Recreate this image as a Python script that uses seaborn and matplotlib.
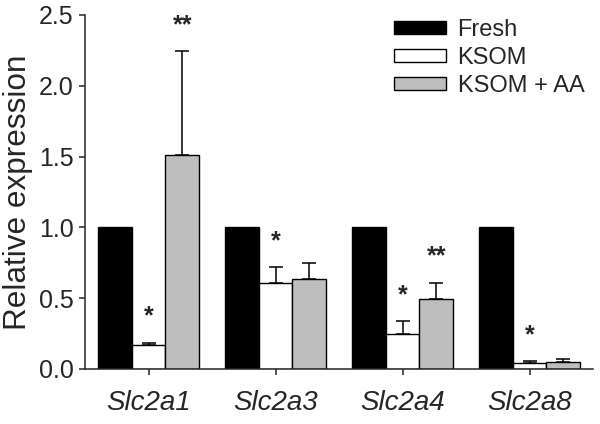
import numpy as np
import pandas as pd
import matplotlib
matplotlib.use("Agg")
import matplotlib.pyplot as plt
import seaborn as sns

genes = ["Slc2a1", "Slc2a3", "Slc2a4", "Slc2a8"]
groups = ["Fresh", "KSOM", "KSOM + AA"]
fresh = [1.0, 1.0, 1.0, 1.0]
ksom = [0.167, 0.61, 0.245, 0.04]
ksom_aa = [1.511, 0.633, 0.496, 0.049]
fresh_err = [0.0, 0.0, 0.0, 0.0]
ksom_err = [0.019, 0.11, 0.096, 0.016]
ksom_aa_err = [0.735, 0.113, 0.114, 0.021]
fresh_sig = ["", "", "", ""]
ksom_sig = ["*", "*", "*", "*"]
ksom_aa_sig = ["**", "", "**", ""]
colors = ["#000000", "#ffffff", "#bebebe"]
yticks = [0.0, 0.5, 1.0, 1.5, 2.0, 2.5]

sns.set_style("ticks")
plt.rcParams["font.family"] = ["Liberation Sans", "DejaVu Sans"]

values = [fresh, ksom, ksom_aa]
errs = [fresh_err, ksom_err, ksom_aa_err]
sigs = [fresh_sig, ksom_sig, ksom_aa_sig]

df = pd.DataFrame({
    "gene": [g for _ in groups for g in genes],
    "group": [grp for grp in groups for _ in genes],
    "value": [v for vals in values for v in vals],
})

fig = plt.figure(figsize=(6, 4.24), dpi=100)
ax = fig.add_axes([85 / 600, 55 / 424, 508 / 600, 354 / 424])

sns.barplot(data=df, x="gene", y="value", hue="group", order=genes,
            hue_order=groups, palette=colors, edgecolor="black",
            linewidth=1.0, errorbar=None, width=0.8, saturation=1, ax=ax)

bar_conts = list(ax.containers)
for ci, cont in enumerate(bar_conts):
    for j, p in enumerate(cont.patches):
        cx = p.get_x() + p.get_width() / 2
        h = p.get_height()
        e = errs[ci][j]
        if e > 0:
            ax.errorbar(cx, h, yerr=[[0], [e]], fmt="none", ecolor="black",
                        elinewidth=1.1, capsize=4.7, capthick=1.1, zorder=3)
        s = sigs[ci][j]
        if s:
            ax.annotate(s, (cx, h + e), xytext=(0, 10), textcoords="offset points",
                        ha="center", va="bottom", fontsize=18, fontweight="bold")

ax.set_xlim(-0.5, 3.5)
ax.set_ylim(0, 2.5)
ax.set_yticks(yticks)
ax.set_yticklabels([f"{t:.1f}" for t in yticks])
ax.set_xlabel("")
ax.set_ylabel("Relative expression", fontsize=22.7, labelpad=4)
ax.tick_params(axis="y", labelsize=18, length=4.3, width=1.1, pad=4)
ax.tick_params(axis="x", labelsize=20, length=4.3, width=1.1, pad=11)
for lbl in ax.get_xticklabels():
    lbl.set_fontstyle("italic")
for sp in ["top", "right"]:
    ax.spines[sp].set_visible(False)
for sp in ["left", "bottom"]:
    ax.spines[sp].set_linewidth(1.1)

handles, labels = ax.get_legend_handles_labels()
ax.legend(handles, labels, loc="upper left", bbox_to_anchor=(0.608, 0.99),
          frameon=False, fontsize=17, handlelength=2.2, handleheight=0.47,
          handletextpad=0.5, labelspacing=0.27, borderpad=0, borderaxespad=0)

fig.savefig("out.png", dpi=100)
